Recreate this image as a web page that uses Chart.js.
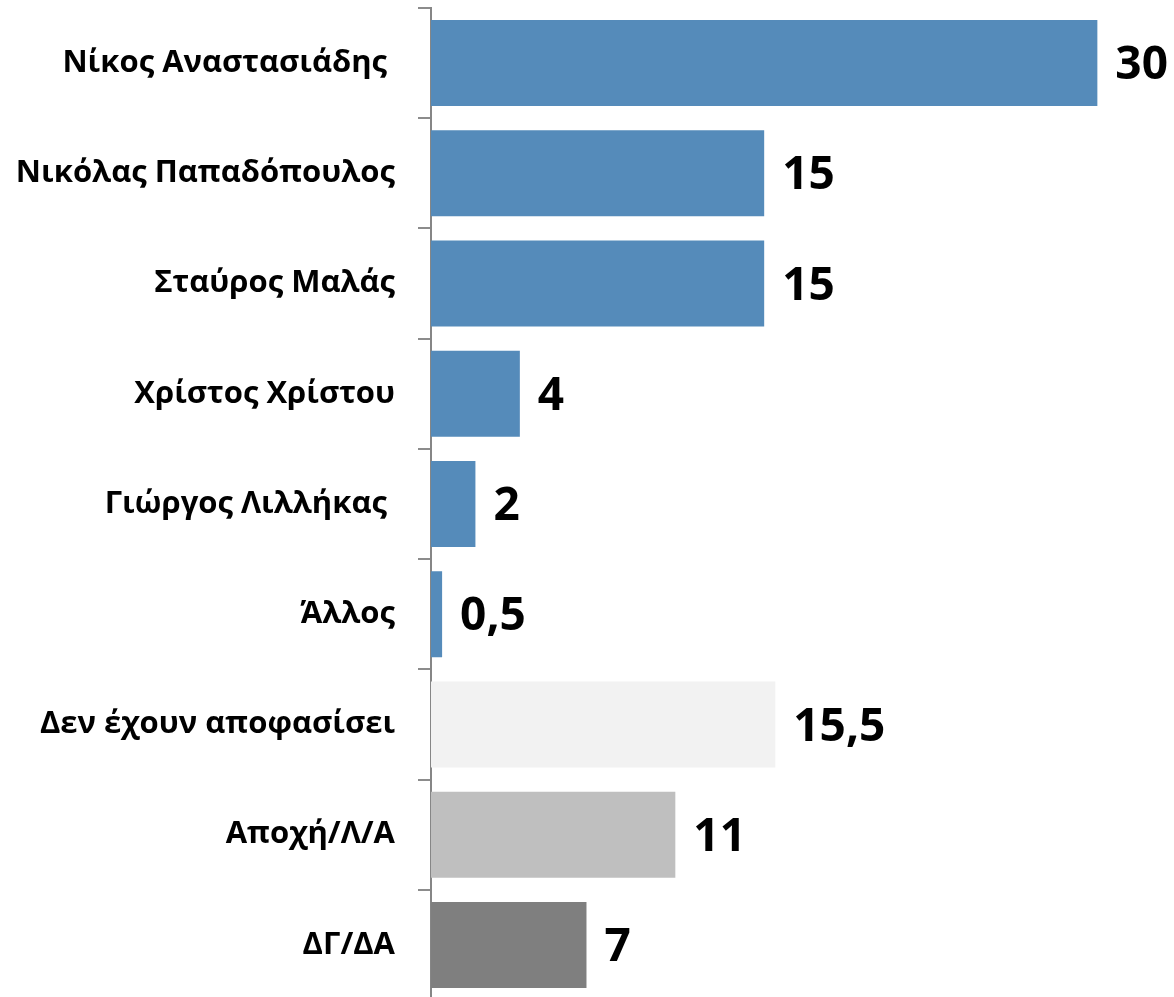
<!DOCTYPE html>
<html>
<head>
<meta charset="utf-8">
<script src="https://cdn.jsdelivr.net/npm/chart.js@4.4.0/dist/chart.umd.min.js"></script>
<style>
	html, body { margin: 0; padding: 0; background: #ffffff; overflow: hidden; }
	#chartContainer { position: relative; width: 1174px; height: 1000px; }
</style>
</head>
<body>
<div id="chartContainer"><canvas id="pollChart"></canvas></div>
<script>
// categories, values and bar colours
const categories = [
	'Νίκος Αναστασιάδης ',
	'Νικόλας Παπαδόπουλος',
	'Σταύρος Μαλάς',
	'Χρίστος Χρίστου',
	'Γιώργος Λιλλήκας ',
	'Άλλος',
	'Δεν έχουν αποφασίσει',
	'Αποχή/Λ/Α',
	'ΔΓ/ΔΑ'
];
const percentages = [30, 15, 15, 4, 2, 0.5, 15.5, 11, 7];
const barColors = ['#558BBA', '#558BBA', '#558BBA', '#558BBA', '#558BBA', '#558BBA', '#F2F2F2', '#BFBFBF', '#7F7F7F'];

const valueFont = "bold 46px 'Open Sans', 'Liberation Sans', sans-serif";

// draws the value next to each bar (no datalabels plugin available)
const valueLabels = {
	id: 'valueLabels',
	afterDatasetsDraw(chart) {
		const ctx = chart.ctx;
		const meta = chart.getDatasetMeta(0);
		ctx.save();
		ctx.font = valueFont;
		ctx.fillStyle = '#000000';
		ctx.textAlign = 'left';
		ctx.textBaseline = 'middle';
		meta.data.forEach((bar, i) => {
			const txt = String(percentages[i]).replace('.', ',');
			ctx.fillText(txt, bar.x + 18, bar.y + 3);
		});
		ctx.restore();
	}
};

document.addEventListener('DOMContentLoaded', initializePollChart);

function initializePollChart() {
	const ctx = document.getElementById('pollChart').getContext('2d');
	new Chart(ctx, {
		type: 'bar',
		data: {
			labels: categories,
			datasets: [{
				data: percentages,
				backgroundColor: barColors,
				borderWidth: 0,
				barPercentage: 0.78,
				categoryPercentage: 1.0
			}]
		},
		options: {
			indexAxis: 'y',
			responsive: true,
			maintainAspectRatio: false,
			animation: false,
			layout: { padding: { top: 8, bottom: 0, left: 0, right: 10 } },
			plugins: {
				legend: { display: false },
				tooltip: { enabled: false }
			},
			scales: {
				x: {
					display: false,
					min: 0,
					max: 33
				},
				y: {
					afterFit: scale => {
						scale.width = 431;
						scale.paddingTop = 0;
						scale.paddingBottom = 0;
					},
					border: { display: true, color: '#868686', width: 2 },
					grid: {
						drawOnChartArea: false,
						drawTicks: true,
						tickLength: 13,
						color: '#8c8c8c',
						lineWidth: 2,
						offset: true
					},
					ticks: {
						padding: 23,
						color: '#000000',
						font: { family: "'Open Sans', sans-serif", size: 31, weight: 'bold' }
					}
				}
			}
		},
		plugins: [valueLabels]
	});
}
</script>
</body>
</html>
